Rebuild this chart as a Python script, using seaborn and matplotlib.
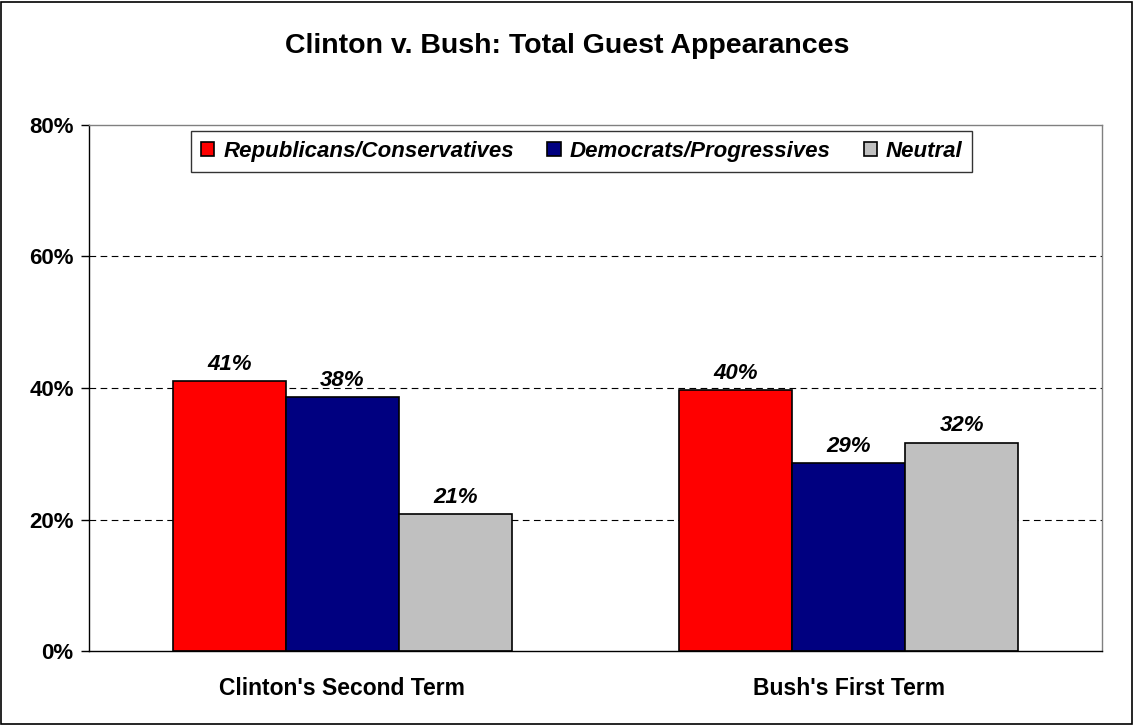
import matplotlib
matplotlib.use("Agg")
import matplotlib.pyplot as plt
import matplotlib.patches as mpatches
import seaborn as sns
import pandas as pd
from matplotlib.ticker import FuncFormatter

categories = ["Clinton's Second Term", "Bush's First Term"]
groups = ["Republicans/Conservatives", "Democrats/Progressives", "Neutral"]
rep_values = [41.0, 39.7]
dem_values = [38.6, 28.6]
neu_values = [20.8, 31.7]
labels_rep = ["41%", "40%"]
labels_dem = ["38%", "29%"]
labels_neu = ["21%", "32%"]
colors = ["#FF0000", "#000080", "#C0C0C0"]

rows = []
for g, vals in zip(groups, [rep_values, dem_values, neu_values]):
    for c, v in zip(categories, vals):
        rows.append({"Term": c, "Group": g, "Value": v})
df = pd.DataFrame(rows)

sns.set_style("white")
plt.rcParams['font.family'] = ['Liberation Sans', 'DejaVu Sans']
plt.rcParams['text.color'] = 'black'
plt.rcParams['xtick.color'] = 'black'
plt.rcParams['ytick.color'] = 'black'
plt.rcParams['axes.labelcolor'] = 'black'

fig = plt.figure(figsize=(11.34, 7.25), dpi=100)
ax = fig.add_axes([89/1134, 1-651/725, (1102-89)/1134, (651-125)/725])

sns.barplot(data=df, x="Term", y="Value", hue="Group", order=categories,
            hue_order=groups, palette=colors, width=0.67, edgecolor="black",
            linewidth=1.2, saturation=1, ax=ax, legend=True)

ax.set_ylim(0, 80)
ax.set_xlim(-0.5, 1.5)
ax.set_yticks([0, 20, 40, 60, 80])
ax.yaxis.set_major_formatter(FuncFormatter(lambda v, p: f"{int(v)}%"))
for y in [20, 40, 60]:
    ax.axhline(y, color="black", linestyle=(0, (6, 4)), linewidth=0.8, zorder=0)

ax.set_xticks([-0.5, 0.5, 1.5], minor=True)
ax.set_xticks([0, 1])
ax.set_xticklabels(categories, fontsize=16.5, fontweight="bold")
ax.tick_params(axis="x", which="major", length=0, pad=19)
ax.tick_params(axis="x", which="minor", length=7, width=1, direction="out", color="black")
ax.tick_params(axis="y", length=6, width=1, direction="out", color="black", left=True,
               labelsize=16, pad=5)
for t in ax.get_yticklabels():
    t.set_fontweight("bold")
ax.set_xlabel("")
ax.set_ylabel("")

for side in ["top", "right"]:
    ax.spines[side].set_color("#808080")
    ax.spines[side].set_linewidth(1)
for side in ["left", "bottom"]:
    ax.spines[side].set_color("black")
    ax.spines[side].set_linewidth(1)

all_labels = [labels_rep, labels_dem, labels_neu]
for cont, labs in zip(ax.containers, all_labels):
    ax.bar_label(cont, labels=labs, padding=4.5, fontsize=16, fontweight="bold",
                 fontstyle="italic")

handles, lbls = ax.get_legend_handles_labels()
leg = ax.legend(handles, lbls, ncol=3, loc="upper left",
                bbox_to_anchor=((191-89)/1013, 1-(131-125)/526),
                borderaxespad=0,
                frameon=True, fancybox=False, edgecolor="black",
                prop={"weight": "bold", "style": "italic", "size": 16},
                handlelength=0.6, handleheight=0.6, handletextpad=0.4,
                columnspacing=1.5, borderpad=0.45)
leg.get_frame().set_linewidth(1)

fig.text(0.5, 1-46/725, "Clinton v. Bush: Total Guest Appearances",
         ha="center", va="center", fontsize=20.5, fontweight="bold")

fig.patches.append(mpatches.Rectangle((0.001, 0.0015), 0.997, 0.996, transform=fig.transFigure,
                                      fill=False, edgecolor="black", linewidth=1.2))

fig.savefig("out.png", dpi=100)
